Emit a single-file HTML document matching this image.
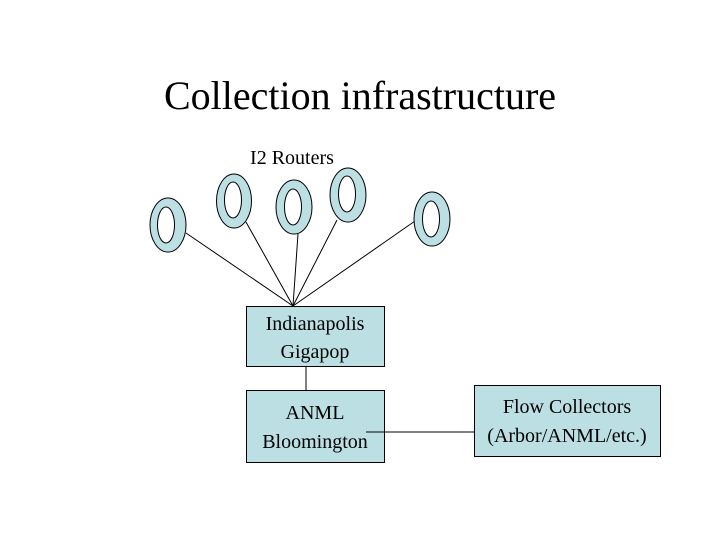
<!DOCTYPE html>
<html><head><style>
body{margin:0;background:#fff;}
svg{display:block;}
text{font-family:"Liberation Serif",serif;fill:#000;}
</style></head><body>
<svg width="720" height="540" xmlns="http://www.w3.org/2000/svg">
<text x="360" y="109" font-size="40" text-anchor="middle">Collection infrastructure</text>
<text x="292" y="164" font-size="20" text-anchor="middle">I2 Routers</text>
<g stroke="#000" stroke-width="1">
<line x1="186" y1="233" x2="293" y2="306"/>
<line x1="246" y1="222" x2="293" y2="306"/>
<line x1="298" y1="234" x2="293" y2="306"/>
<line x1="337" y1="220" x2="293" y2="306"/>
<line x1="415" y1="221" x2="293" y2="306"/>
<line x1="306" y1="366" x2="306" y2="390"/>
</g>
<g fill="#bcdfe3" stroke="#000" stroke-width="1">
<ellipse cx="168" cy="225" rx="18" ry="27"/>
<ellipse cx="234" cy="201" rx="17.5" ry="27"/>
<ellipse cx="294" cy="207" rx="18" ry="27"/>
<ellipse cx="348" cy="195" rx="18" ry="27"/>
<ellipse cx="432" cy="219" rx="18" ry="27"/>
</g>
<g fill="#fff" stroke="#000" stroke-width="1">
<ellipse cx="166" cy="225" rx="8.5" ry="18"/>
<ellipse cx="233" cy="200" rx="8.5" ry="18"/>
<ellipse cx="293" cy="207" rx="8.5" ry="18"/>
<ellipse cx="347" cy="194" rx="8.5" ry="18"/>
<ellipse cx="431" cy="219" rx="8.5" ry="18"/>
</g>
<g fill="#bcdfe3" stroke="#000" stroke-width="1">
<rect x="246.5" y="306.5" width="138" height="60"/>
<rect x="246.5" y="390.5" width="138" height="72"/>
<rect x="474.5" y="385.5" width="186" height="71"/>
</g>
<line x1="366" y1="432" x2="474" y2="432" stroke="#000"/>
<g font-size="20" text-anchor="middle">
<text x="315" y="330">Indianapolis</text>
<text x="315" y="358">Gigapop</text>
<text x="315" y="419">ANML</text>
<text x="315" y="448">Bloomington</text>
<text x="567" y="413">Flow Collectors</text>
<text x="567" y="442">(Arbor/ANML/etc.)</text>
</g>
</svg>
</body></html>
